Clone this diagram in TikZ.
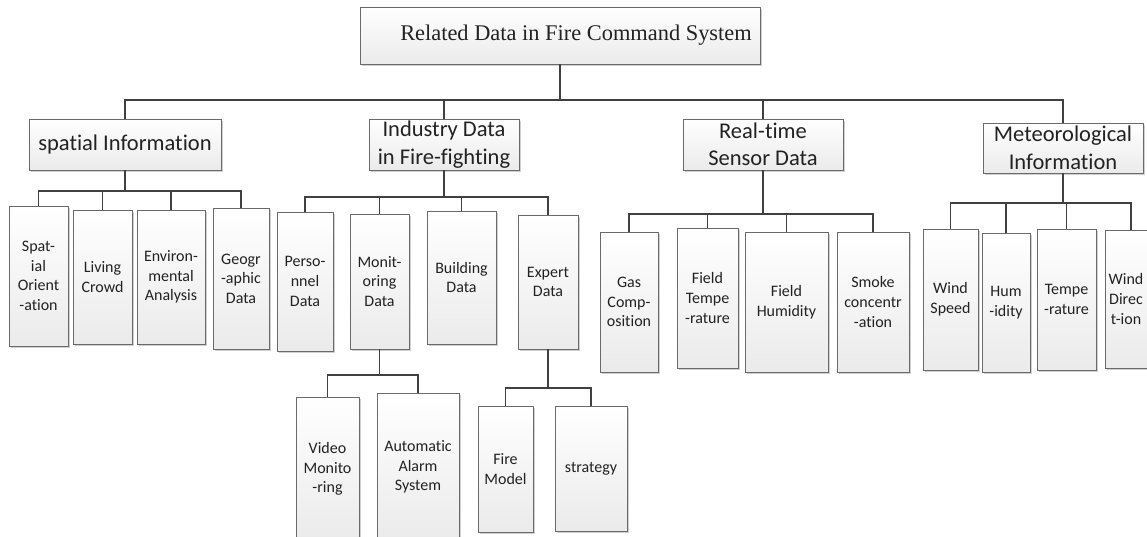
\documentclass[tikz,border=0pt]{standalone}
\usepackage{fontspec}
\setmainfont[Ligatures=NoCommon]{Carlito}
\newfontfamily\rootfont{Liberation Serif}
\usetikzlibrary{shadows}

\definecolor{linkgray}{HTML}{404040}
\definecolor{framegray}{HTML}{6A6A6A}
\definecolor{inkgray}{HTML}{222222}

\tikzset{
  box/.style={draw=framegray, line width=0.8pt, top color=white, bottom color=black!8,
    text=inkgray, align=center, inner sep=0pt,
    drop shadow={shadow xshift=1.6pt, shadow yshift=-1.6pt, opacity=0.3, fill=black!60}},
  dims/.style 2 args={minimum width=#1pt, minimum height=#2pt},
  leaf/.style={box, font=\fontsize{16}{19.6}\selectfont},
  group/.style={box, font=\fontsize{22.5}{27.5}\selectfont},
  link/.style={draw=linkgray, line width=1.2pt},
}

\begin{document}
\begin{tikzpicture}[x=1pt, y=-1pt]
\useasboundingbox[fill=white] (0,0) rectangle (1147,537);

% top of the tree
\node[box, dims={400}{57}, font=\rootfont\fontsize{22.4}{27}\selectfont] (root) at (560,35.5)
  {\hspace*{32pt}Related Data in Fire Command System};

% four data categories
\node[group, dims={192}{51}] (sp)  at (125,144.5)  {spatial Information};
\node[group, dims={150}{51}] (ind) at (444,144.5)  {Industry Data\\in Fire-fighting};
\node[group, dims={160}{51}] (rt)  at (763,144.5)  {Real-time\\Sensor Data};
\node[group, dims={160}{50}] (met) at (1063,148)   {Meteorological\\Information};

% spatial information
\node[leaf, dims={59}{140}] (so) at (38.5,276)  {Spat-\\ial\\Orient\\-ation};
\node[leaf, dims={59}{134}] (lc) at (102.5,277) {Living\\Crowd};
\node[leaf, dims={68}{134}] (ea) at (171,277)   {Environ-\\mental\\Analysis};
\node[leaf, dims={56}{141}] (gd) at (241,278.5) {Geogr\\-aphic\\Data};

% industry data
\node[leaf, dims={56}{139}] (pd) at (305,281.5)   {Perso-\\nnel\\Data};
\node[leaf, dims={59}{135}] (md) at (379.5,281.5) {Monit-\\oring\\Data};
\node[leaf, dims={69}{133}] (bd) at (461.5,277.5) {Building\\Data};
\node[leaf, dims={60}{134}] (ed) at (548,282)     {Expert\\Data};

% monitoring and expert data
\node[leaf, dims={63}{144}] (vm) at (327.5,469) {Video\\Monito\\-ring};
\node[leaf, dims={82}{148}] (aa) at (418,467)   {Automatic\\Alarm\\System};
\node[leaf, dims={55}{126}] (fm) at (505.5,469) {Fire\\Model};
\node[leaf, dims={72}{125}] (st) at (591,468.5) {strategy};

% sensor data
\node[leaf, dims={58}{140}] (gas) at (629,302)   {Gas\\Comp-\\osition};
\node[leaf, dims={61}{140}] (ft)  at (707.5,298) {Field\\Tempe\\-rature};
\node[leaf, dims={83}{140}] (fh)  at (786.5,302) {Field\\Humidity};
\node[leaf, dims={72}{140}] (sm)  at (873,302)   {Smoke\\concentr\\-ation};

% meteorological data
\node[leaf, dims={55}{141}] (ws) at (950.5,299.5)  {Wind\\Speed};
\node[leaf, dims={48}{139}] (hu) at (1006,302.5)   {Hum\\-idity};
\node[leaf, dims={59}{141}] (te) at (1066.5,299.5) {Tempe\\-rature};
\node[leaf, dims={52}{138}] (wd) at (1131,299)     {\hspace*{-10pt}Wind\\\hspace*{-10pt}Direc\\\hspace*{-10pt}t-ion};

% heights of the horizontal bars
\coordinate (b0)   at (0,100);
\coordinate (bsp)  at (0,191);
\coordinate (bind) at (0,197);
\coordinate (brt)  at (0,214);
\coordinate (bmet) at (0,203);
\coordinate (bmd)  at (0,375);
\coordinate (bed)  at (0,388);

% connectors
\foreach \c in {sp,ind,rt,met}
  \draw[link] (root.south) -- (root.south |- b0) -| (\c.north);
\foreach \c in {so,lc,ea,gd}
  \draw[link] (sp.south) -- (sp.south |- bsp) -| (\c.north);
\foreach \c in {pd,md,bd,ed}
  \draw[link] (ind.south) -- (ind.south |- bind) -| (\c.north);
\foreach \c in {gas,ft,fh,sm}
  \draw[link] (rt.south) -- (rt.south |- brt) -| (\c.north);
\foreach \c in {ws,hu,te,wd}
  \draw[link] (met.south) -- (met.south |- bmet) -| (\c.north);
\foreach \c in {vm,aa}
  \draw[link] (md.south) -- (md.south |- bmd) -| (\c.north);
\foreach \c in {fm,st}
  \draw[link] (ed.south) -- (ed.south |- bed) -| (\c.north);
\end{tikzpicture}
\end{document}
